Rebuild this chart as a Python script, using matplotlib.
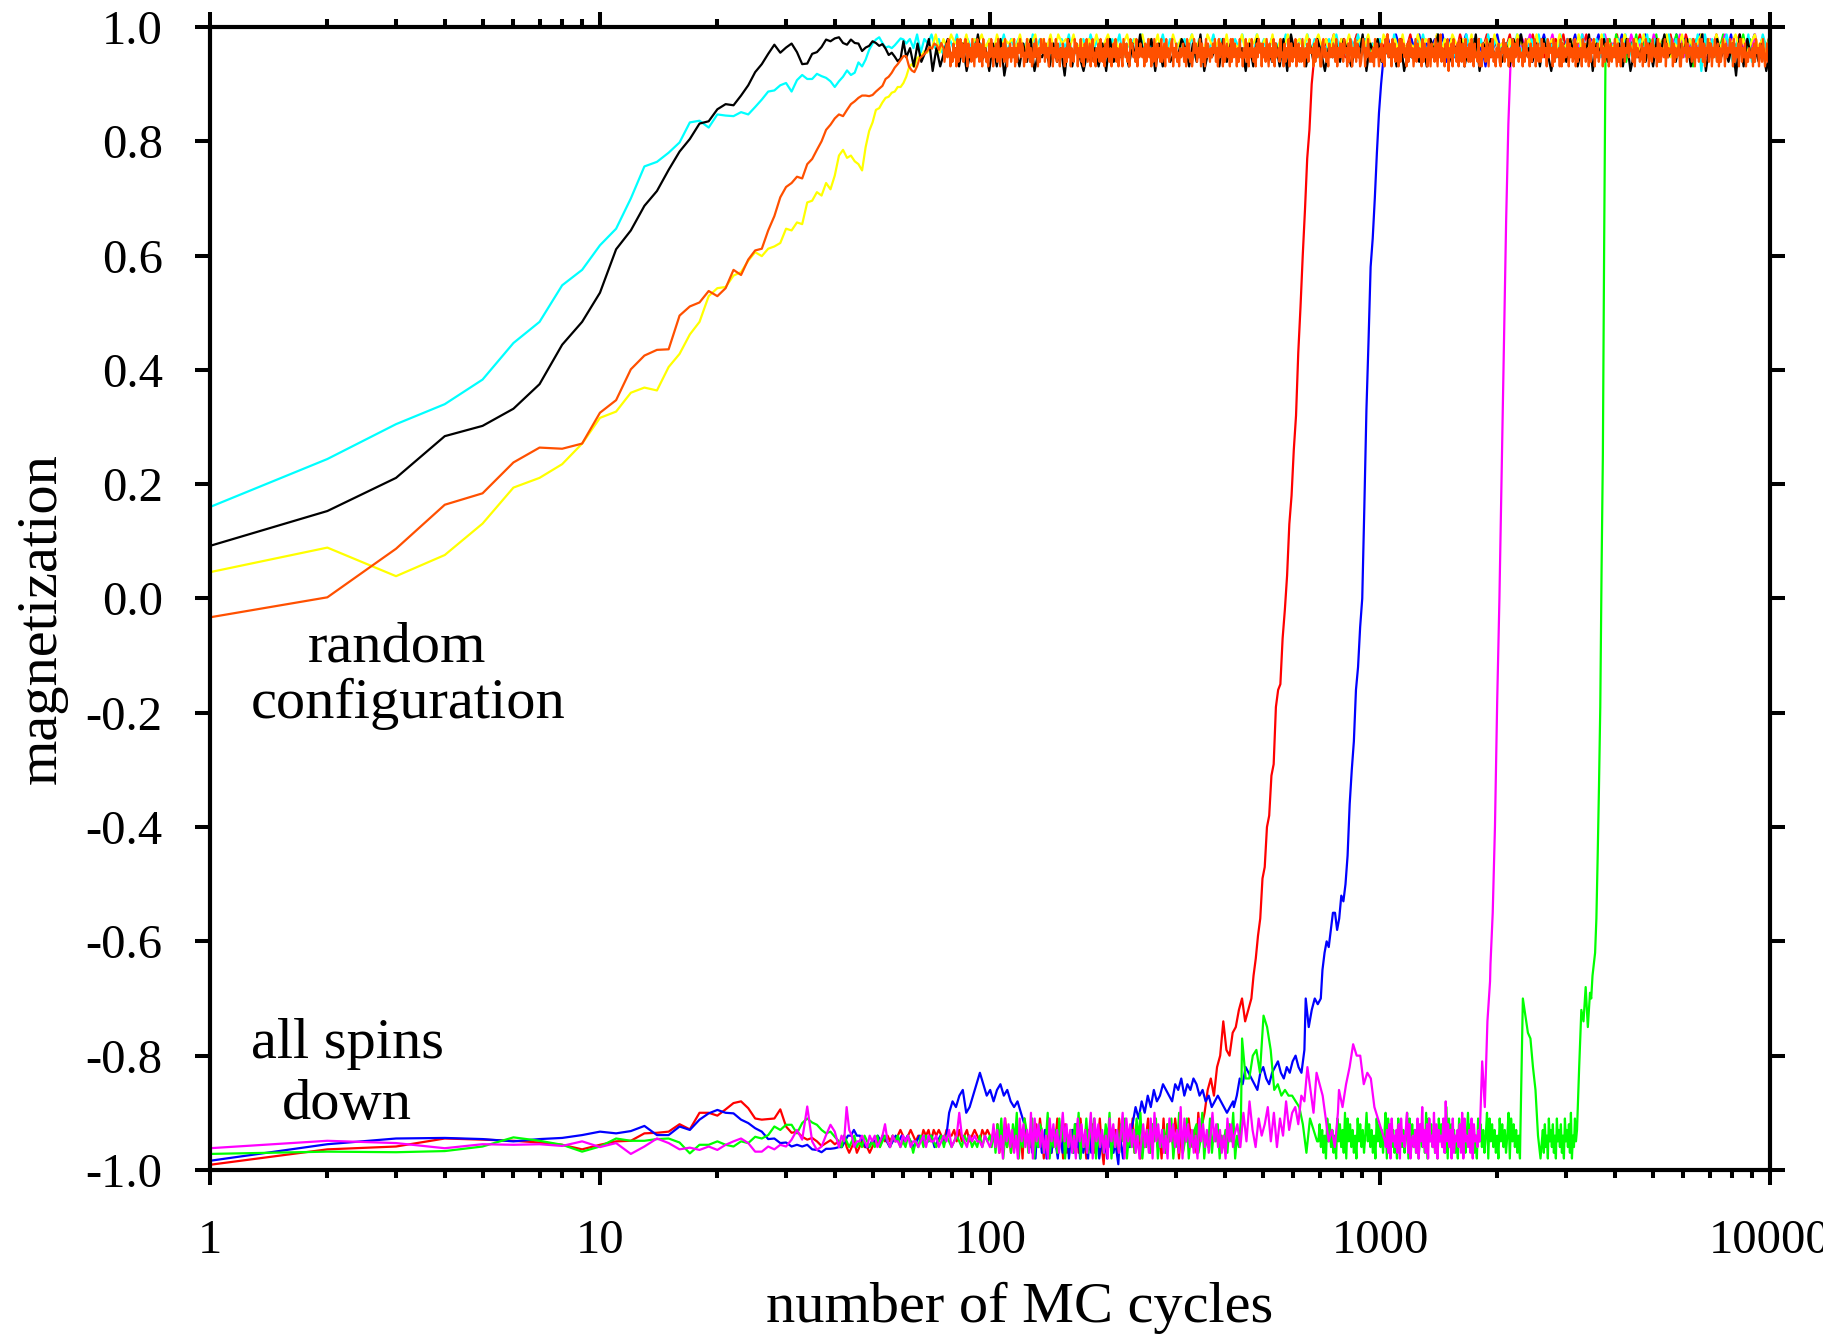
import numpy as np
import matplotlib
matplotlib.use("Agg")
import matplotlib.pyplot as plt
from matplotlib.ticker import FixedLocator, FixedFormatter, LogLocator, NullFormatter

plt.rcParams["font.family"] = ["Liberation Serif", "DejaVu Serif"]
plt.rcParams["axes.unicode_minus"] = False


def up(code):
    # ordered-phase readings, one digit per sample: m = 0.915 + 0.008 * digit
    return list(0.915 + 0.008 * np.array([int(ch) for ch in code.replace(" ", "")]))


def down(code):
    # reversed-phase readings, one base-36 symbol per sample: m = -0.99 + 0.01 * k
    return list(-0.99 + 0.01 * np.array([int(ch, 36) for ch in code.replace(" ", "")]))


# ---------------------------------------------------------------- axes text
x_ticks = [1, 10, 100, 1000, 10000]
x_tick_labels = ["1", "10", "100", "1000", "10000"]
y_ticks = [-1.0, -0.8, -0.6, -0.4, -0.2, 0.0, 0.2, 0.4, 0.6, 0.8, 1.0]
y_tick_labels = ["-1.0", "-0.8", "-0.6", "-0.4", "-0.2", "0.0",
                 "0.2", "0.4", "0.6", "0.8", "1.0"]

# ------------------------------------------------ runs from a random start
# *_first: magnetization at cycles 1, 2, 3, ...
# *_rest : (first cycle, last cycle, readings on a log-spaced cycle grid)
cyan_first = [0.160, 0.244, 0.305, 0.340, 0.383, 0.447, 0.484, 0.548, 0.575, 0.618,
              0.647, 0.700, 0.756, 0.764, 0.780, 0.798, 0.833, 0.836, 0.824, 0.847,
              0.845, 0.844, 0.851, 0.847, 0.860, 0.873, 0.887, 0.889, 0.898, 0.902,
              0.887, 0.907, 0.916, 0.909, 0.909, 0.918, 0.914, 0.911, 0.905, 0.895,
              0.905, 0.913, 0.924, 0.916, 0.920, 0.938, 0.931, 0.943, 0.960, 0.971,
              0.978, 0.982, 0.972, 0.964, 0.966, 0.963, 0.968, 0.974, 0.980, 0.978]
cyan_rest = [
    (61, 10000, up("7869587968 5786957868 4768576958 6857496857 3758694768 5968475869 "
                   "4768593857 6958476859 4857695847 5869574968 4857695748 6958475869 "
                   "5748695847 6857496857 4869574958 6847595768 4958576849 5768495867 "
                   "4958674957 6849576859 4768594857 6958476859 1958476952 8649375968")),
]

yellow_first = [0.046, 0.089, 0.039, 0.076, 0.131, 0.194, 0.211, 0.235, 0.271, 0.316,
                0.327, 0.360, 0.369, 0.364, 0.405, 0.428, 0.462, 0.484, 0.529, 0.543,
                0.545, 0.565, 0.571, 0.591, 0.606, 0.599, 0.612, 0.616, 0.622, 0.647,
                0.644, 0.658, 0.655, 0.693, 0.696, 0.711, 0.705, 0.727, 0.716, 0.740,
                0.775, 0.785, 0.771, 0.775, 0.765, 0.760, 0.749, 0.790, 0.818, 0.833,
                0.855, 0.858, 0.868, 0.876, 0.878, 0.885, 0.887, 0.895, 0.895, 0.902,
                0.913, 0.929, 0.935, 0.930, 0.945, 0.949, 0.952, 0.958, 0.955, 0.965]
yellow_rest = [
    (71, 10000, up("6958697869 5879685968 7869587948 6959786958 4869579685 7958695869 "
                   "4759685796 8597685947 6958796859 4869578695 7968594869 5786958497 "
                   "6859476958 7694859768 5947685967 4859768594 7685967849 5768594768 "
                   "5976859476 8594769586 7948596857 9685796849")),
]

black_first = [0.092, 0.153, 0.211, 0.284, 0.302, 0.332, 0.375, 0.444, 0.484, 0.535,
               0.611, 0.644, 0.687, 0.713, 0.750, 0.782, 0.804, 0.831, 0.835, 0.856,
               0.865, 0.863, 0.880, 0.898, 0.921, 0.935, 0.953, 0.969, 0.955, 0.964,
               0.971, 0.956, 0.935, 0.936, 0.953, 0.956, 0.965, 0.978, 0.975, 0.980,
               0.982, 0.972, 0.969, 0.978, 0.972, 0.971, 0.958, 0.964, 0.967, 0.975,
               0.972, 0.967, 0.970, 0.962, 0.951, 0.955, 0.948, 0.940, 0.945, 0.975]
black_rest = [
    (61, 10000, up("4627358162 5836271549 3617280546 2738154627 3608274153 6271835462 "
                   "7394581726 3548627391 5462837546 1728546372 8195462738 5164738526 "
                   "4917583647 2815463728 5946375826 4917584637 2859463728 5164738526 "
                   "4917583647 2815463728 5946375826 4917584637 0928463715")),
]

orange_first = [-0.033, 0.002, 0.087, 0.164, 0.184, 0.238, 0.264, 0.262, 0.271, 0.325,
                0.347, 0.401, 0.425, 0.435, 0.436, 0.495, 0.511, 0.518, 0.538, 0.529,
                0.543, 0.575, 0.566, 0.593, 0.609, 0.612, 0.644, 0.669, 0.702, 0.720,
                0.727, 0.738, 0.735, 0.760, 0.769, 0.785, 0.800, 0.820, 0.829, 0.840,
                0.847, 0.844, 0.855, 0.865, 0.870, 0.876, 0.880, 0.880, 0.879, 0.881,
                0.887, 0.892, 0.897, 0.909, 0.913, 0.920, 0.929, 0.935, 0.942, 0.949,
                0.949, 0.931, 0.924, 0.921, 0.931, 0.945, 0.949, 0.953, 0.958, 0.965,
                0.962, 0.971, 0.968, 0.960, 0.972]
orange_rest = [
    (76, 1000, up("6357486253 7462835847 3586274638 5274863752 8463527486 2647385264 "
                  "7385264736 4826375847 6253847362 3748526385 5837462857 2648375264 "
                  "7526384726 4385726483 6274835726 8352647385 3627485362 5748362574 "
                  "2864735286 7453826475 4627358462 6385274638 3572846357 8264735264 "
                  "5736284735 2485736482 7362847536 4758362847 6283574628 3847526384 "
                  "5264837264 8536274857 2746385274 6382745638 4527364827 7364825736 "
                  "3852647385 5627384562 2784635274 6475382647 4738562738 7264837462 "
                  "3587264853 5362847526")),
    (1003, 10000, up("4736285947 6284735628 3857462738 7462583746 5283746285 2746385274 "
                     "9365274816 4728563728 6375284637 3862745382 5274638527 7483526473 "
                     "2658374625 6382745836 4527386452 7364825736 3847562847 5628374562 "
                     "8273645827 4635827364 6284735628 3758264735 5826374825 7364852736 "
                     "2847365847 6538274653 4726385726 7385462837 3654827465 5827364582 "
                     "2746583746 6385274638 4837265837 7264853726 3586274658 5728364728 "
                     "8364725364 4627385627 6385247385")),
]

# --------------------------------------------- runs from all spins down
red_first = [-0.991, -0.964, -0.959, -0.945, -0.947, -0.949, -0.952, -0.956, -0.964, -0.956,
             -0.950, -0.949, -0.936, -0.935, -0.933, -0.920, -0.929, -0.900, -0.900, -0.905,
             -0.894, -0.883, -0.880, -0.892, -0.910, -0.912, -0.911, -0.910, -0.894, -0.924,
             -0.935, -0.933, -0.942, -0.947, -0.944, -0.950, -0.958, -0.953, -0.948, -0.955]
red_rest = [
    (41, 100, down("4353234234 3323443545 4545654565 4546564656 5465564645 6456546565")),
    (101, 350, down("4637254836 2547361845 3627485163 7254836172 5463728451 "
                    "6372548306 4753628475 3648275163 5827463518 2746385162 7485362947")),
    (355, 468, down("9dfchjpkjnortprt")),
    (474, 677, [-0.66, -0.63, -0.59, -0.56, -0.49, -0.47, -0.40, -0.38, -0.31, -0.29,
                -0.19, -0.16, -0.15, -0.07, -0.02, 0.04, 0.13, 0.18, 0.26, 0.32,
                0.43, 0.51, 0.60, 0.68, 0.77, 0.82, 0.90, 0.94]),
    (680, 10000, up("5748695847 6958475869 4857695746 8596748596 4758694857 6948576958 "
                    "4768594857 6958476859 4857695847 5869574968 4857695748 6958475869")),
]

blue_first = [-0.984, -0.955, -0.945, -0.944, -0.946, -0.950, -0.946, -0.944, -0.939, -0.933,
              -0.936, -0.932, -0.923, -0.939, -0.939, -0.924, -0.930, -0.912, -0.901, -0.895,
              -0.900, -0.901, -0.912, -0.918, -0.927, -0.933, -0.946, -0.945, -0.953, -0.952,
              -0.959, -0.956, -0.959, -0.956, -0.964, -0.965, -0.969, -0.963, -0.963, -0.962]
blue_rest = [
    (41, 76, down("3345565543 3445454345 4545434545 453454")),
    (77, 125, down("49bacd9acegecdbdecdbab975")),
    (126, 230, down("3524163524 6135246315 4263514627 3516243152 4635135241 "
                    "6352420531 52436")),
    (232, 420, down("7a8b9cadbc edcbedfced fecdbcabcb a9ab")),
    (422, 640, down("acfehgfedghfeghigfhgijhgk")),
    (645, 705, down("tortst")),
    (712, 1019, [-0.65, -0.62, -0.60, -0.61, -0.58, -0.55, -0.55, -0.58, -0.56, -0.52,
                 -0.53, -0.50, -0.45, -0.36, -0.30, -0.25, -0.16, -0.12, -0.05, 0.00,
                 0.16, 0.33, 0.45, 0.58, 0.63, 0.70, 0.78, 0.85, 0.90, 0.94]),
    (1025, 10000, up("5849673859 4768593847 6958472869 5748695837 6958475869 "
                     "4758694857 6948576958 4768594857 6958476859 4857695847")),
]

green_first = [-0.972, -0.968, -0.969, -0.967, -0.959, -0.943, -0.949, -0.956, -0.968, -0.959,
               -0.945, -0.949, -0.949, -0.946, -0.945, -0.952, -0.971, -0.956, -0.956, -0.950,
               -0.956, -0.959, -0.950, -0.953, -0.942, -0.945, -0.939, -0.924, -0.930, -0.921,
               -0.921, -0.936, -0.918, -0.910, -0.917, -0.921, -0.930, -0.936, -0.933, -0.942]
green_rest = [
    (41, 100, down("4354345343 5434353454 3545343542 4353545434 5354345435 4534353545")),
    (101, 440, down("3627481536 2749153862 4815376249 1536284715 3627491538 "
                    "2748153627 4915362748 1536284915 3627481536 2748153962 "
                    "4815367249 1538264715 3627491538")),
    (443, 690, down("mffjkgqokdecdccba72864")),
    (695, 2285, down("4736251847 3625184736 2918473625 1847362594 7362518473 "
                     "6259184736 2518473625 9184736251 4736291847 3625184736 "
                     "2a18473625 1847362594 7362518473 6259184736 2518473625 9184736251")),
    (2290, 2580, down("5tqnmhd51")),
    (2600, 3180, down("4627351846 3725184637 2518463729 15384")),
    (3200, 3455, [-0.93, -0.82, -0.72, -0.74, -0.68, -0.75, -0.69]),
    (3480, 3785, [-0.70, -0.66, -0.64, -0.62, -0.56, -0.45, -0.33, -0.19, 0.05, 0.25,
                  0.62, 0.94]),
    (3800, 10000, up("5849673859 4768593847 6958472869 5748695837 6958475869")),
]

magenta_first = [-0.962, -0.949, -0.953, -0.962, -0.955, -0.956, -0.955, -0.958, -0.950, -0.960,
                 -0.953, -0.972, -0.959, -0.945, -0.953, -0.964, -0.961, -0.965, -0.959, -0.965,
                 -0.956, -0.950, -0.945, -0.953, -0.968, -0.968, -0.959, -0.964, -0.956, -0.959,
                 -0.947, -0.930, -0.947, -0.889, -0.950, -0.965, -0.959, -0.939, -0.921, -0.933]
magenta_rest = [
    (41, 100, down("354a653445 4354534574 3544354534 4345354453 4546345954 3545443543")),
    (101, 420, down("4736251847 3625184736 2918473625 1847362594 7362518473 "
                    "6259184736 2518473625 9184736251 4736281947 3625184736 "
                    "2a18473625 1847362594 7362518473")),
    (423, 780, down("57394b6385 7a49385b69 a7cbhd9gec 84639")),
    (785, 1030, down("daehljjegfa864")),
    (1035, 1790, down("3627184536 2718453692 7145362817 4a36271845 3927164538 "
                      "2b47361825 4637291845 3628174536")),
    (1800, 1915, down("4iapw")),
    (1920, 2162, [-0.64, -0.55, -0.40, -0.18, 0.00, 0.22, 0.45, 0.66, 0.83, 0.94]),
    (2170, 10000, up("5748695847 6958475869 4857695746 8596748596 4758694857 "
                     "6948576958 4768594857")),
]

# drawing order (last one on top) and colours
runs = [
    (red_first, red_rest, "#ff0000"),
    (blue_first, blue_rest, "#0000ff"),
    (green_first, green_rest, "#00ff00"),
    (magenta_first, magenta_rest, "#ff00ff"),
    (cyan_first, cyan_rest, "#00ffff"),
    (yellow_first, yellow_rest, "#ffff00"),
    (black_first, black_rest, "#000000"),
    (orange_first, orange_rest, "#ff5000"),
]


def assemble(first, rest):
    xs = [np.arange(1, len(first) + 1, dtype=float)]
    ys = [np.asarray(first, dtype=float)]
    for c0, c1, vals in rest:
        vals = np.asarray(vals, dtype=float)
        xs.append(np.geomspace(c0, c1, len(vals)))
        ys.append(vals)
    return np.concatenate(xs), np.concatenate(ys)


fig = plt.figure(figsize=(18.24, 13.36), dpi=100)
ax = fig.add_axes([0.1151, 0.1243, 0.8553, 0.8555])

for first, rest, color in runs:
    cycles, mag = assemble(first, rest)
    ax.plot(cycles, mag, color=color, lw=1.6)

ax.set_xscale("log")
ax.set_xlim(1, 10000)
ax.set_ylim(-1, 1)
ax.xaxis.set_major_locator(FixedLocator(x_ticks))
ax.xaxis.set_major_formatter(FixedFormatter(x_tick_labels))
ax.xaxis.set_minor_locator(LogLocator(base=10, subs=np.arange(2, 10), numticks=20))
ax.xaxis.set_minor_formatter(NullFormatter())
ax.yaxis.set_major_locator(FixedLocator(y_ticks))
ax.yaxis.set_major_formatter(FixedFormatter(y_tick_labels))

ax.tick_params(which="both", direction="out", top=True, right=True,
               width=2.9, labelsize=35, color="black")
ax.tick_params(which="major", length=11)
ax.tick_params(which="minor", length=5.5)
ax.tick_params(axis="x", which="major", pad=24)
ax.tick_params(axis="y", which="major", pad=23)
for spine in ax.spines.values():
    spine.set_linewidth(3)

ax.set_xlabel("number of MC cycles", fontsize=42)
ax.xaxis.set_label_coords(0.519, -0.098)
ax.set_ylabel("magnetization", fontsize=42)
ax.yaxis.set_label_coords(-0.091, 0.482)

ax.text(3.02, -0.111, "random", ha="center", va="baseline", fontsize=42)
ax.text(3.22, -0.210, "configuration", ha="center", va="baseline", fontsize=42)
ax.text(2.25, -0.805, "all spins", ha="center", va="baseline", fontsize=42)
ax.text(2.25, -0.910, "down", ha="center", va="baseline", fontsize=42)

fig.savefig("out.png", dpi=100)
